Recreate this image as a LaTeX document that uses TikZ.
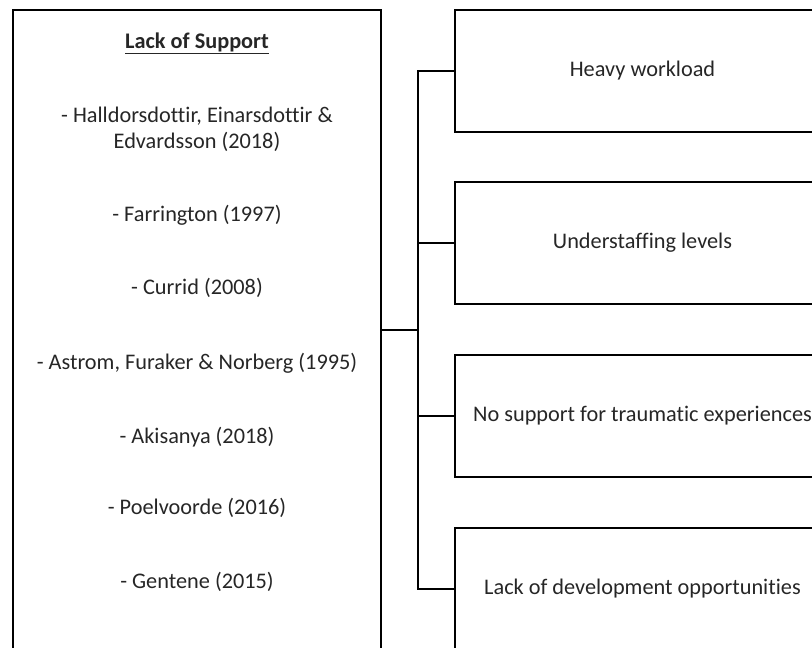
\documentclass[tikz,border=0pt]{standalone}
\usepackage{fontspec}
\setmainfont{Carlito}[Ligatures=CommonOff]
\begin{document}
\begin{tikzpicture}[x=1pt,y=-1pt,
  box/.style={draw=black,line width=1.9pt,rectangle,inner sep=0pt},
  rbox/.style={box,minimum width=375pt,minimum height=122pt,font=\fontsize{22.3}{26}\selectfont,text=black!85},
  ref/.style={font=\fontsize{22.3}{26}\selectfont,text=black!85,align=center,inner sep=0pt},
  link/.style={line width=1.9pt,line cap=rect}]
\useasboundingbox (0,0) rectangle (812,648);
\clip (0,0) rectangle (812,648);
% left box
\node[box,minimum width=368pt,minimum height=690pt] (L) at (197,355) {};
\node[ref,font=\fontsize{22.3}{26}\selectfont\bfseries] (t0) at (197,43) {\underline{Lack of Support}};
\node[ref] (t1) at (197,129) {- Halldorsdottir, Einarsdottir \&\\Edvardsson (2018)};
\node[ref] (t2) at (197,215) {- Farrington (1997)};
\node[ref] (t3) at (197,288) {- Currid (2008)};
\node[ref] (t4) at (197,363) {- Astrom, Furaker \& Norberg (1995)};
\node[ref] (t5) at (197,437) {- Akisanya (2018)};
\node[ref] (t6) at (197,508) {- Poelvoorde (2016)};
\node[ref] (t7) at (197,582) {- Gentene (2015)};
% right boxes
\node[rbox] (B1) at (642.5,71) {Heavy workload};
\node[rbox] (B2) at (642.5,243) {Understaffing levels};
\node[rbox] (B3) at (642.5,416) {No support for traumatic experiences};
\node[rbox] (B4) at (642.5,589) {Lack of development opportunities};
% connectors
\coordinate (tm) at (418,330);
\draw[link] (L.east |- tm) -- (tm);
\draw[link] (tm |- B1.west) -- (tm |- B4.west);
\draw[link] (tm |- B1.west) -- (B1.west);
\draw[link] (tm |- B2.west) -- (B2.west);
\draw[link] (tm |- B3.west) -- (B3.west);
\draw[link] (tm |- B4.west) -- (B4.west);
\end{tikzpicture}
\end{document}
